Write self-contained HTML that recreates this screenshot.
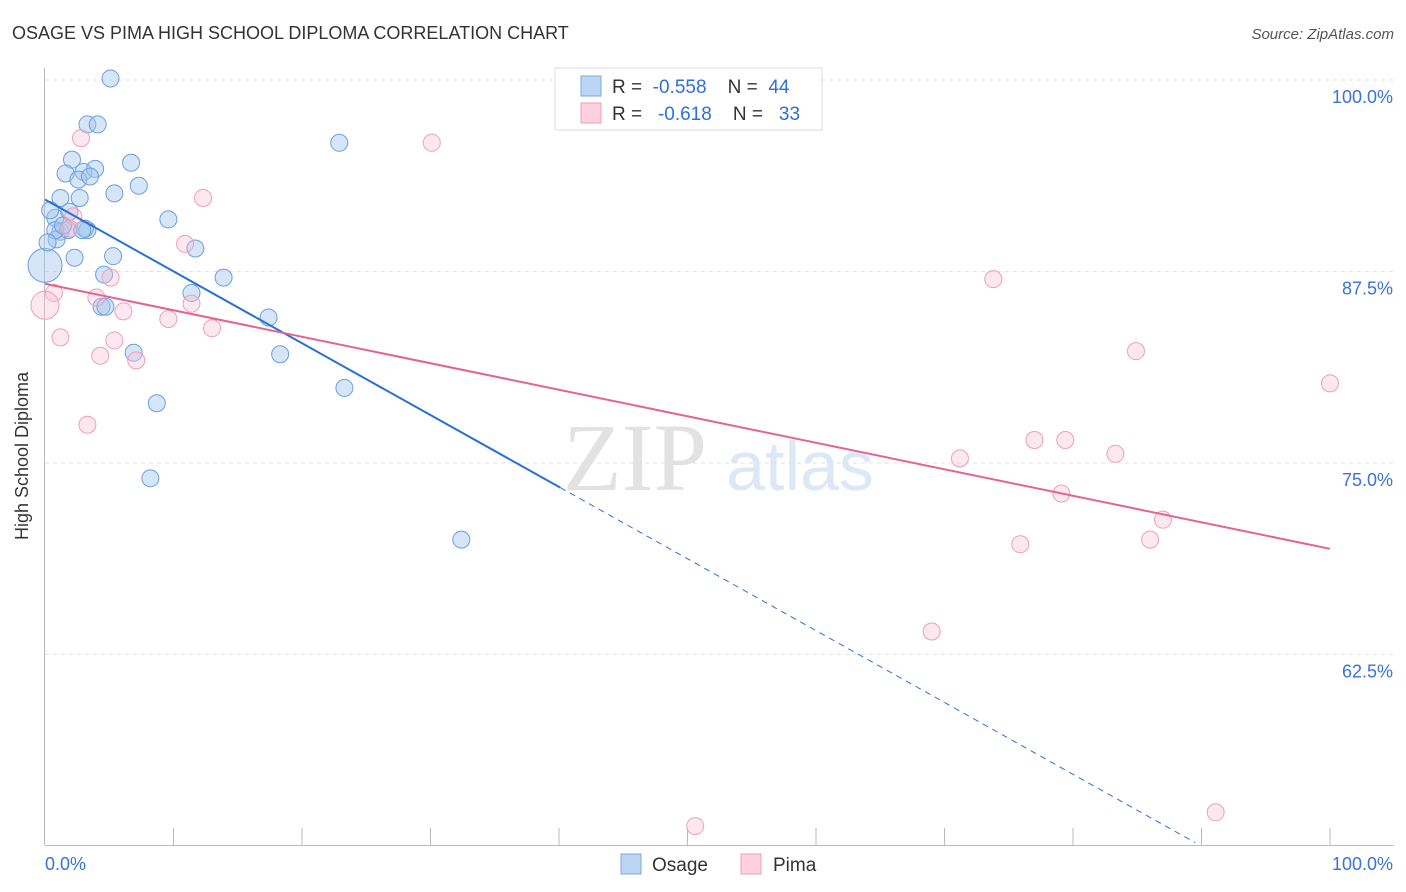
<!DOCTYPE html>
<html><head><meta charset="utf-8"><style>
body{margin:0;background:#fff;font-family:"Liberation Sans",sans-serif}
svg{display:block}
text{white-space:pre}
</style></head><body>
<svg id="c" width="1406" height="892" xmlns="http://www.w3.org/2000/svg">
<text x="12" y="39" font-size="18" fill="#333">OSAGE VS PIMA HIGH SCHOOL DIPLOMA CORRELATION CHART</text>
<text x="1394" y="39" font-size="15" fill="#555" font-style="italic" text-anchor="end">Source: ZipAtlas.com</text>
<text x="28" y="456" font-size="18" fill="#333" text-anchor="middle" transform="rotate(-90 28 456)">High School Diploma</text>
<g><text x="635" y="490" font-size="96" fill="#e2e2e2" font-family="Liberation Serif" text-anchor="middle">ZIP</text><text x="800" y="490" font-size="70" fill="#dde8f6" text-anchor="middle">atlas</text></g>
<g id="grid"></g><g id="marks"></g><g id="lines"></g>
<g>
<rect x="555" y="68" width="267" height="62" fill="#fff" stroke="#ddd"/>
<rect x="581" y="76" width="20" height="20" fill="#bcd5f5" stroke="#7ba7e0"/>
<text x="612" y="93" font-size="19" fill="#333" xml:space="preserve">R =  <tspan fill="#2f6fd6">-0.558</tspan>    N =  <tspan fill="#2f6fd6">44</tspan></text>
<rect x="581" y="103" width="20" height="20" fill="#fcd0de" stroke="#eba0b8"/>
<text x="612" y="120" font-size="19" fill="#333" xml:space="preserve">R =   <tspan fill="#2f6fd6">-0.618</tspan>    N =   <tspan fill="#2f6fd6">33</tspan></text>
</g>
<g>
<rect x="621" y="854" width="20" height="20" fill="#bcd5f5" stroke="#7ba7e0"/>
<text x="652" y="871" font-size="19" fill="#333">Osage</text>
<rect x="741" y="854" width="20" height="20" fill="#fcd0de" stroke="#eba0b8"/>
<text x="773" y="871" font-size="19" fill="#333">Pima</text>
</g>
</svg>
<script>
const yTicks=[100,87.5,75,62.5];
const yTickLabels=["100.0%","87.5%","75.0%","62.5%"];
const xTickLabels=["0.0%","100.0%"];
const osageX=[5.1,3.3,4.1,2.1,6.7,1.6,3.0,3.9,2.6,7.3,5.4,1.2,2.7,9.6,0.8,1.9,0.4,1.2,1.8,3.3,0.9,2.3,11.7,5.3,13.9,4.6,0.0,11.4,4.4,4.7,17.4,6.9,18.3,23.3,8.7,8.2,22.9,32.4,3.1,0.8,1.4,0.2,3.5,2.9];
const osageY=[100.1,97.1,97.1,94.8,94.6,93.9,94.0,94.2,93.5,93.1,92.6,92.3,92.3,90.9,91.0,91.4,91.5,90.1,90.2,90.2,89.6,88.4,89.0,88.5,87.1,87.3,87.9,86.1,85.2,85.2,84.5,82.2,82.1,79.9,78.9,74.0,95.9,70.0,90.3,90.2,90.5,89.4,93.7,90.2];
const pimaX=[2.8,30.1,12.3,2.2,10.9,5.1,0.7,0.0,4.0,11.4,6.1,9.6,13.0,1.2,5.4,4.3,7.1,3.3,73.8,84.9,100.0,77.0,79.4,71.2,83.3,79.1,87.0,75.9,86.0,69.0,50.6,91.1,1.9];
const pimaY=[96.2,95.9,92.3,91.1,89.3,87.1,86.1,85.3,85.8,85.4,84.9,84.4,83.8,83.2,83.0,82.0,81.7,77.5,87.0,82.3,80.2,76.5,76.5,75.3,75.6,73.0,71.3,69.7,70.0,64.0,51.3,52.2,90.3];
const osageTrend=[92.2,-0.469];
const pimaTrend=[86.7,-0.173];
const NS="http://www.w3.org/2000/svg";
const X=v=>45+v*12.85, Y=v=>80+(100-v)*15.32;
function mk(t,a,p){const e=document.createElementNS(NS,t);for(const k in a)e.setAttribute(k,a[k]);p.appendChild(e);return e;}
const grid=document.getElementById('grid');
yTicks.forEach((t,i)=>{
 const l=mk('line',{x1:45,x2:1394,y1:Y(t),y2:Y(t),stroke:'#e2e2e2','stroke-dasharray':'4 4'},grid);
 
 
 const tx=mk('text',{x:1393,y:Y(t)+23,'font-size':18,fill:'#3a72d6','text-anchor':'end'},grid);tx.textContent=yTickLabels[i];
 
 
});
const ax=mk('line',{x1:44.5,x2:44.5,y1:68,y2:845,stroke:'#bbb'},grid);


const bx=mk('line',{x1:45,x2:1394,y1:845.5,y2:845.5,stroke:'#bbb'},grid);


for(let i=1;i<=10;i++){const t=mk('line',{x1:X(i*10),x2:X(i*10),y1:828,y2:845,stroke:'#bbb'},grid);
 
 }
[[0,'start',45],[100,'end',1393]].forEach((d,i)=>{const t=mk('text',{x:d[2],y:870,'font-size':18,fill:'#3a72d6','text-anchor':d[1]},grid);t.textContent=xTickLabels[i];
 
 });
const marks=document.getElementById('marks');
osageX.forEach((x,i)=>{const c=mk('circle',{cx:X(x),cy:Y(osageY[i]),r:(x===0?17:8.5),fill:'rgba(164,198,240,0.45)',stroke:'#6a9fe0','stroke-width':1},marks);
 
 });
pimaX.forEach((x,i)=>{const c=mk('circle',{cx:X(x),cy:Y(pimaY[i]),r:(x===0?14:8.5),fill:'rgba(248,190,210,0.35)',stroke:'#eba0b8','stroke-width':1},marks);
 
 });
const lines=document.getElementById('lines');
const f=(t,x)=>t[0]+t[1]*x;
let l1=mk('line',{x1:X(0),y1:Y(f(osageTrend,0)),x2:X(40.1),y2:Y(f(osageTrend,40.1)),stroke:'#2a6fd6','stroke-width':2},lines);


let l2=mk('line',{x1:X(40.1),y1:Y(f(osageTrend,40.1)),x2:X(89.5),y2:Y(f(osageTrend,89.5)),stroke:'#2a6fd6','stroke-width':1,'stroke-dasharray':'6 5'},lines);


let l3=mk('line',{x1:X(0),y1:Y(f(pimaTrend,0)),x2:X(100),y2:Y(f(pimaTrend,100)),stroke:'#e4648f','stroke-width':2},lines);


</script>
</body></html>
